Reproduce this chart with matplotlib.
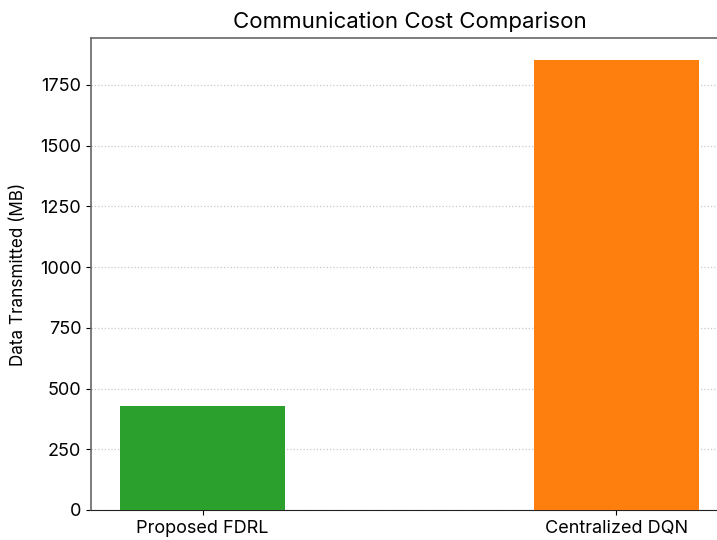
import matplotlib
matplotlib.use("Agg")
import matplotlib.pyplot as plt

methods = ["Proposed FDRL", "Centralized DQN"]
data_mb = [430, 1850]
bar_colors = ["#2ca02c", "#ff7f0e"]

plt.rcParams['font.family'] = ['Inter', 'DejaVu Sans']

fig = plt.figure(figsize=(7.17, 5.40), dpi=100)
ax = fig.add_axes([91 / 717, 30 / 540, 637 / 717, 472 / 540])

ax.bar(methods, data_mb, width=0.4, color=bar_colors, zorder=3)
ax.set_ylim(0, max(data_mb) * 1.05)
ax.set_xlim(-0.27, 1.27)

ax.set_title("Communication Cost Comparison", fontsize=16, pad=7)
ax.set_ylabel("Data Transmitted (MB)", fontsize=12.3, labelpad=9)
ax.tick_params(axis='both', labelsize=13)
ax.yaxis.grid(True, linestyle=':', color='#c8c8c8', linewidth=0.9, zorder=0)

for side in ("left", "top", "right"):
    ax.spines[side].set_color("#666666")
    ax.spines[side].set_linewidth(1.2)
ax.spines["bottom"].set_color("#222222")

fig.savefig("out.png", dpi=100)
